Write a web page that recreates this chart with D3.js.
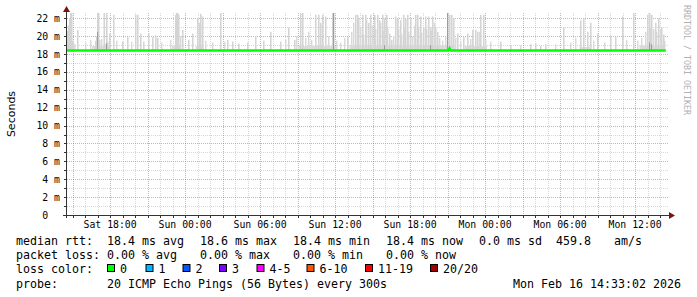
<!DOCTYPE html>
<html>
<head>
<meta charset="utf-8">
<script src="https://cdn.jsdelivr.net/npm/d3@7"></script>
<style>
    body { margin: 0; background: #fff; }
    svg { display: block; }
    .mono { font-family: "DejaVu Sans Mono", monospace; fill: #000; white-space: pre; }
</style>
</head>
<body>
<div id="chart"></div>
<script>
// time range of the graph (48 hours, ending at the graph timestamp)
var rangeStart = Date.UTC(2026, 1, 14, 14, 33);
var rangeEnd = Date.UTC(2026, 1, 16, 14, 33);

// median rtt in ms, [hours after start, value]
var medianPoints = [[0, 18.4], [30.5, 18.4], [30.6, 18.65], [30.7, 18.4], [47.9, 18.4]];

// tall smoke spikes: hours after start and the highest ping in ms
var spikeHours = [0.00, 0.08, 0.16, 0.24, 0.32, 0.40, 0.80, 2.24, 2.32, 2.40, 2.48, 2.56,
    2.92, 2.96, 3.12, 3.20, 3.36, 3.68, 4.40, 4.80, 5.44, 5.60, 5.84, 6.08, 6.48, 6.80,
    7.04, 7.20, 8.64, 8.72, 8.80, 8.88, 9.20, 9.68, 10.00, 10.40, 10.56, 10.64, 10.80,
    12.24, 12.80, 13.20, 13.68, 14.40, 15.04, 15.68, 16.24, 17.04, 17.68, 18.16, 18.64,
    18.80, 19.84, 20.08, 20.24, 20.40, 20.64, 21.20, 21.28, 22.40, 23.04, 23.20, 23.28,
    23.60, 23.84, 24.08, 24.24, 24.56, 24.80, 24.96, 25.20, 25.36, 25.52, 25.76, 25.92,
    26.24, 26.40, 26.64, 26.88, 27.04, 27.20, 27.44, 27.84, 28.00, 28.24, 28.48, 28.64,
    28.88, 29.04, 29.20, 29.44, 29.60, 30.40, 30.56, 30.72, 30.88, 31.20, 31.68, 32.00,
    32.40, 32.64, 32.80, 33.04, 33.28, 34.64, 35.44, 37.04, 37.44, 37.84, 38.24, 39.68,
    41.04, 41.28, 41.60, 41.84, 42.40, 43.44, 43.84, 44.40, 45.28, 46.40, 46.56, 46.72,
    47.04, 47.28, 47.52, 47.68];
var spikeMax = [20.6, 21.2, 22.0, 23.0, 23.0, 19.5, 20.7, 19.5, 20.0, 23.0, 23.0, 19.6,
    23.0, 19.2, 23.0, 19.4, 20.3, 22.4, 19.4, 19.9, 22.4, 22.4, 20.3, 19.4, 20.3, 19.9,
    20.1, 19.8, 22.4, 23.0, 23.0, 22.4, 20.7, 19.6, 20.3, 22.0, 21.5, 22.5, 22.2,
    23.0, 19.6, 19.4, 19.2, 19.3, 20.0, 19.5, 20.5, 19.4, 21.0, 19.6, 23.0,
    23.0, 22.4, 22.4, 21.5, 22.4, 22.2, 23.0, 23.0, 19.9, 22.4, 22.4, 22.0,
    22.4, 22.4, 21.5, 22.4, 22.4, 22.4, 21.8, 22.4, 22.0, 22.4, 20.3, 19.6,
    22.2, 22.0, 21.8, 22.4, 22.0, 22.4, 22.0, 22.4, 22.4, 22.2, 21.0, 22.2,
    22.2, 21.0, 22.2, 21.0, 20.5, 23.0, 22.4, 22.4, 22.0, 20.3, 19.9, 20.3,
    20.7, 20.7, 20.5, 22.4, 22.4, 19.4, 19.0, 19.1, 19.2, 18.9, 19.1, 21.0,
    21.8, 22.0, 20.5, 21.5, 20.3, 20.1, 19.9, 22.2, 23.0, 22.4, 23.0, 22.4,
    21.5, 22.0, 21.0, 20.2];

// medium smoke spikes
var midHours = [1.44, 1.84, 2.72, 3.92, 5.12, 7.52, 8.24, 9.04, 11.04, 11.60, 12.56, 17.44,
    18.32, 19.04, 19.28, 19.52, 20.88, 21.52, 21.84, 22.16, 22.72, 22.88, 23.44, 23.68,
    23.92, 24.40, 24.64, 25.04, 25.28, 25.60, 26.08, 26.48, 26.72, 26.96, 27.28, 27.60,
    27.76, 28.08, 28.32, 28.72, 29.12, 29.36, 29.76, 30.00, 30.24, 31.04, 31.44, 32.24,
    32.96, 33.44, 33.84, 36.24, 39.04, 40.24, 40.64, 42.08, 42.96, 44.72, 45.60, 45.92,
    46.24, 46.64, 46.88, 47.12, 47.44, 47.76];
var midMax = [19.3, 19.6, 19.7, 19.5, 19.4, 19.3, 19.6, 20.0, 19.5, 19.3, 19.4, 19.6,
    20.0, 19.8, 20.5, 19.6, 20.0, 19.5, 19.3, 19.8, 20.5, 21.5, 21.0, 20.2,
    21.8, 21.2, 20.8, 21.5, 20.6, 21.0, 20.0, 20.8, 20.2, 21.0, 20.5, 20.0,
    21.2, 21.0, 20.4, 20.8, 20.6, 21.5, 19.8, 19.5, 20.0, 19.8, 19.5, 19.7,
    20.5, 19.6, 19.4, 19.0, 19.1, 19.3, 19.8, 19.5, 19.3, 19.6, 19.5, 19.8,
    20.5, 21.0, 20.8, 20.5, 20.8, 19.5];

// low smoke band close to the median: [from hour, to hour, top ms]
var fuzzBands = [[0.0, 0.7, 19.1], [2.0, 3.5, 18.9], [8.4, 9.1, 19.0], [10.3, 10.9, 18.9],
    [18.5, 21.5, 18.9], [22.6, 31.0, 19.0], [31.8, 33.6, 18.9], [41.0, 41.9, 18.8],
    [45.8, 47.8, 19.0]];

// darker parts of the smoke
var darkHours = [2.40, 3.12, 21.28, 25.36, 29.04, 30.40, 46.56, 46.72];
var darkMax = [20.5, 19.2, 23.0, 19.0, 19.0, 23.0, 19.3, 19.1];

// y axis grid values (ms)
var yMinorTicks = d3.range(0, 23, 1);
var yLabels = [0, 2, 4, 6, 8, 10, 12, 14, 16, 18, 20, 22];

// legend
var lossColors = ["#00ff00", "#00b8ff", "#0059ff", "#7e00ff", "#ff00ff", "#ff5500", "#ff0000", "#a10000"];
var lossLabels = ["0", "1", "2", "3", "4-5", "6-10", "11-19", "20/20"];
var rttLine = [["median rtt:", 16], ["18.4 ms avg", 107], ["18.6 ms max", 200], ["18.4 ms min", 293],
    ["18.4 ms now", 386], ["0.0 ms sd", 479], ["459.8", 556], ["am/s", 614]];
var lossLine = [["packet loss:", 16], ["0.00 % avg", 107], ["0.00 % max", 200], ["0.00 % min", 293],
    ["0.00 % now", 386]];
var probeText = "20 ICMP Echo Pings (56 Bytes) every 300s";
var stampText = "Mon Feb 16 14:33:02 2026";

var width = 697, height = 297;
var plot = {left: 67, right: 667, top: 13, bottom: 215};

var hourToDate = function (h) { return new Date(rangeStart + h * 3600e3); };

var svg = d3.select("#chart").append("svg")
    .attr("width", width)
    .attr("height", height);

svg.append("rect").attr("width", width).attr("height", height).attr("fill", "#fff");

var x = d3.scaleUtc()
    .domain([new Date(rangeStart), new Date(rangeEnd)])
    .range([plot.left, plot.right]);

var y = d3.scaleLinear()
    .domain([0, 22.6])
    .range([plot.bottom, plot.top]);

var gridRight = plot.right + 1;
var majorColor = "rgba(200,60,60,0.45)";
var minorColor = "rgba(140,140,140,0.35)";

// horizontal grid
svg.selectAll(".hgrid")
    .data(yMinorTicks)
    .enter()
    .append("line")
    .attr("x1", plot.left)
    .attr("x2", gridRight)
    .attr("y1", d => Math.round(y(d)) + 0.5)
    .attr("y2", d => Math.round(y(d)) + 0.5)
    .attr("stroke", d => d % 2 == 0 ? majorColor : minorColor)
    .attr("stroke-dasharray", "1,1");

// vertical grid
var hourTicks = x.ticks(d3.utcHour.every(1));
svg.selectAll(".vgrid")
    .data(hourTicks)
    .enter()
    .append("line")
    .attr("x1", d => Math.round(x(d)) + 0.5)
    .attr("x2", d => Math.round(x(d)) + 0.5)
    .attr("y1", plot.top)
    .attr("y2", plot.bottom)
    .attr("stroke", d => d.getUTCHours() % 3 == 0 ? majorColor : minorColor)
    .attr("stroke-dasharray", "1,1");

// smoke
svg.append("clipPath").attr("id", "plotclip")
    .append("rect")
    .attr("x", plot.left).attr("y", plot.top)
    .attr("width", plot.right - plot.left).attr("height", plot.bottom - plot.top);

var smoke = svg.append("g").attr("clip-path", "url(#plotclip)");
var step = x(hourToDate(5 / 60)) - x(hourToDate(0));
var medianAt = 18.4;

smoke.selectAll(".fuzz")
    .data(fuzzBands)
    .enter()
    .append("rect")
    .attr("x", d => x(hourToDate(d[0])))
    .attr("width", d => x(hourToDate(d[1])) - x(hourToDate(d[0])))
    .attr("y", d => y(d[2]))
    .attr("height", d => y(medianAt) - y(d[2]))
    .attr("fill", "#dcdcdc");

var drawSpikes = function (cls, hours, tops, fill, w) {
    smoke.selectAll("." + cls)
        .data(hours)
        .enter()
        .append("rect")
        .attr("class", cls)
        .attr("x", d => x(hourToDate(d)))
        .attr("width", w)
        .attr("y", (d, i) => y(tops[i]))
        .attr("height", (d, i) => y(medianAt) - y(tops[i]))
        .attr("fill", fill);
};

drawSpikes("mid", midHours, midMax, "#d9d9d9", step * 1.4);
drawSpikes("spike", spikeHours, spikeMax, "#d4d4d4", step * 1.5);
drawSpikes("dark", darkHours, darkMax, "#9c9c9c", step);

// median line
var line = d3.line()
    .x(d => x(hourToDate(d[0])))
    .y(d => y(d[1]));

svg.append("path")
    .datum(medianPoints)
    .attr("d", line)
    .attr("fill", "none")
    .attr("stroke", "#00ff00")
    .attr("stroke-width", 2.5);

// axes
var axisColor = "#333";
svg.append("line")
    .attr("x1", plot.left - 4).attr("x2", plot.right + 3)
    .attr("y1", plot.bottom + 0.5).attr("y2", plot.bottom + 0.5)
    .attr("stroke", axisColor);
svg.append("line")
    .attr("x1", plot.left - 0.5).attr("x2", plot.left - 0.5)
    .attr("y1", plot.bottom + 3).attr("y2", plot.top - 3)
    .attr("stroke", axisColor);

// little ticks outside the axes
svg.selectAll(".ytick")
    .data(yMinorTicks)
    .enter()
    .append("line")
    .attr("x1", plot.left - 3).attr("x2", plot.left)
    .attr("y1", d => Math.round(y(d)) + 0.5)
    .attr("y2", d => Math.round(y(d)) + 0.5)
    .attr("stroke", axisColor);
svg.selectAll(".xtick")
    .data(hourTicks)
    .enter()
    .append("line")
    .attr("x1", d => Math.round(x(d)) + 0.5)
    .attr("x2", d => Math.round(x(d)) + 0.5)
    .attr("y1", plot.bottom)
    .attr("y2", plot.bottom + 3)
    .attr("stroke", axisColor);

// arrows
var arrowColor = "#7f1010";
svg.append("path")
    .attr("d", `M${plot.left - 4},${plot.top - 1} L${plot.left - 0.5},${plot.top - 7} L${plot.left + 3},${plot.top - 1} Z`)
    .attr("fill", arrowColor);
svg.append("path")
    .attr("d", `M${plot.right + 2},${plot.bottom - 3} L${plot.right + 8},${plot.bottom + 0.5} L${plot.right + 2},${plot.bottom + 4} Z`)
    .attr("fill", arrowColor);

// y labels ("0" has no unit, it sits in the digit column)
svg.selectAll(".ylabel")
    .data(yLabels)
    .enter()
    .append("text")
    .attr("class", "mono")
    .attr("x", d => d == 0 ? 48.2 : 60)
    .attr("y", d => y(d) + 3.5)
    .attr("text-anchor", "end")
    .attr("font-size", "9.8px")
    .text(d => d == 0 ? "0" : d + " m");

// x labels
var fmt = d3.utcFormat("%a %H:%M");
svg.selectAll(".xlabel")
    .data(x.ticks(d3.utcHour.every(6)))
    .enter()
    .append("text")
    .attr("class", "mono")
    .attr("x", d => x(d))
    .attr("y", 228)
    .attr("text-anchor", "middle")
    .attr("font-size", "9.8px")
    .text(d => fmt(d));

// axis title
svg.append("text")
    .attr("transform", "translate(14.5,114) rotate(-90)")
    .attr("text-anchor", "middle")
    .attr("font-family", "DejaVu Sans, sans-serif")
    .attr("font-size", "11px")
    .text("Seconds");

// watermark
svg.append("text")
    .attr("transform", "translate(684,5) rotate(90)")
    .attr("font-family", "DejaVu Sans Mono, monospace")
    .attr("font-size", "8.3px")
    .attr("fill", "#b0b0b0")
    .text("RRDTOOL / TOBI OETIKER");

// legend
var fs = "11.63px";
var legendRow = function (items, yPos) {
    svg.append("g").selectAll("text")
        .data(items)
        .enter()
        .append("text")
        .attr("class", "mono")
        .attr("font-size", fs)
        .attr("x", d => d[1])
        .attr("y", yPos)
        .text(d => d[0]);
};
legendRow(rttLine, 245);
legendRow(lossLine, 259);
legendRow([["loss color:", 16]], 273);

var boxX = [107, 145.5, 182.5, 219, 256.5, 306.5, 365, 430];
var legendItems = svg.selectAll(".lossbox")
    .data(lossColors)
    .enter()
    .append("g")
    .attr("transform", (d, i) => `translate(${boxX[i]},264)`);
legendItems.append("rect")
    .attr("x", 0.5).attr("y", 0.5)
    .attr("width", 7).attr("height", 7)
    .attr("fill", d => d)
    .attr("stroke", "#000");
legendItems.append("text")
    .attr("class", "mono")
    .attr("font-size", fs)
    .attr("x", 13).attr("y", 9)
    .text((d, i) => lossLabels[i]);

legendRow([["probe:", 16], [probeText, 107]], 287.5);
svg.append("text")
    .attr("class", "mono")
    .attr("font-size", fs)
    .attr("x", 681).attr("y", 287.5)
    .attr("text-anchor", "end")
    .text(stampText);
</script>
</body>
</html>
